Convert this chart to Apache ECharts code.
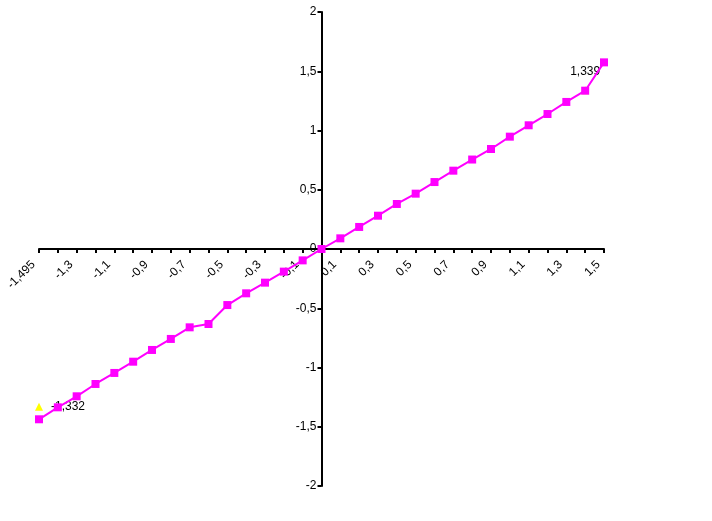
<!DOCTYPE html>
<html>
<head>
<meta charset="utf-8">
<script src="https://cdn.jsdelivr.net/npm/echarts@6/dist/echarts.min.js"></script>
<style>html,body{margin:0;padding:0;background:#fff;}#c{width:712px;height:521px;}</style>
</head>
<body>
<div id="c"></div>
<script>
var categories = [-1.495, -1.4, -1.3, -1.2, -1.1, -1.0, -0.9, -0.8, -0.7, -0.6, -0.5, -0.4, -0.3, -0.2, -0.1, 0, 0.1, 0.2, 0.3, 0.4, 0.5, 0.6, 0.7, 0.8, 0.9, 1.0, 1.1, 1.2, 1.3, 1.4, 1.5];
var magentaValues = [-1.437, -1.336, -1.243, -1.139, -1.046, -0.951, -0.852, -0.759, -0.661, -0.633, -0.473, -0.374, -0.284, -0.191, -0.096, 0.0, 0.09, 0.186, 0.281, 0.380, 0.467, 0.565, 0.661, 0.755, 0.844, 0.948, 1.044, 1.139, 1.241, 1.336, 1.575];
var yellowValues = [-1.332, null, null, null, null, null, null, null, null, null, null, null, null, null, null, null, null, null, null, null, null, null, null, null, null, null, null, null, null, 1.339, null];
var yTicks = [-2, -1.5, -1, -0.5, 0, 0.5, 1, 1.5, 2];

function fmt(v){ return String(v).replace('.', ','); }

var chart = echarts.init(document.getElementById('c'), null, {renderer:'canvas'});
var gridLeft = 39, gridWidth = 565, gridTop = 12, gridHeight = 474;
var font = 'Liberation Sans, Arial, sans-serif';
var yMin = yTicks[0], yMax = yTicks[yTicks.length - 1];

var yellowData = yellowValues.map(function(v, i){
  if (v === null) return null;
  return {
    value: v,
    label: {
      show: true,
      position: i === 0 ? 'right' : 'top',
      distance: i === 0 ? 8 : 9,
      formatter: function(p){ return fmt(p.value); },
      color: '#000', fontSize: 12, fontFamily: font
    }
  };
});

chart.setOption({
  animation: false,
  backgroundColor: '#fff',
  grid: {left: gridLeft, top: gridTop, width: gridWidth, height: gridHeight, containLabel: false},
  xAxis: {
    type: 'category',
    data: categories.map(String),
    boundaryGap: false,
    offset: -(gridHeight * (0 - yMin) / (yMax - yMin)),
    axisLine: {onZero: false, lineStyle: {color: '#000', width: 2}},
    axisTick: {show: true, interval: 0, length: 4, lineStyle: {color: '#000', width: 2}},
    axisLabel: {
      interval: 1, rotate: 45, margin: 8, padding: [0, 8, 0, 0], color: '#000', fontSize: 12, fontFamily: font,
      formatter: function(v){ return fmt(v); }
    },
    splitLine: {show: false}
  },
  yAxis: {
    type: 'value',
    min: yMin, max: yMax, interval: 0.5,
    offset: -(gridWidth / 2),
    axisLine: {show: true, onZero: false, lineStyle: {color: '#000', width: 2}},
    axisTick: {show: true, length: 4, lineStyle: {color: '#000', width: 2}},
    axisLabel: {margin: 5, color: '#000', fontSize: 12, fontFamily: font, formatter: function(v){ return fmt(v); }},
    splitLine: {show: false}
  },
  series: [
    {
      type: 'line',
      data: yellowData,
      symbol: 'triangle', symbolSize: 8,
      itemStyle: {color: '#FFFF00'},
      lineStyle: {width: 0},
      connectNulls: false,
      z: 2
    },
    {
      type: 'line',
      data: magentaValues,
      symbol: 'rect', symbolSize: 8,
      itemStyle: {color: '#FF00FF'},
      lineStyle: {color: '#FF00FF', width: 2},
      z: 3
    }
  ]
});
</script>
</body>
</html>
